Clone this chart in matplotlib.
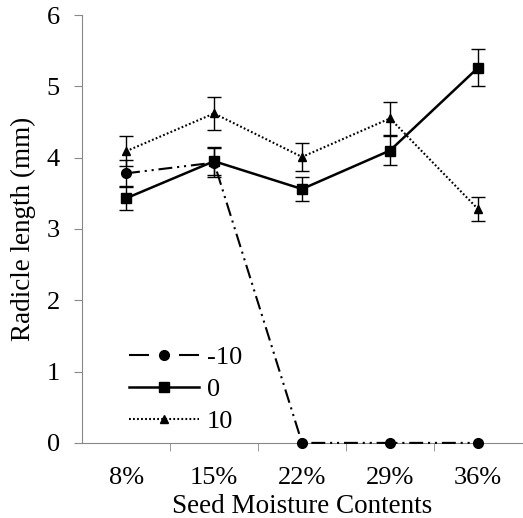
import numpy as np
import matplotlib
matplotlib.use("Agg")
import matplotlib.pyplot as plt
from matplotlib.lines import Line2D

plt.rcParams['font.family'] = ['Liberation Serif', 'DejaVu Serif']
plt.rcParams['lines.scale_dashes'] = False

categories = ["8%", "15%", "22%", "29%", "36%"]
minus10 = [3.78, 3.93, 0, 0, 0]
minus10_err = [0.18, 0.2, 0, 0, 0]
zero = [3.43, 3.95, 3.56, 4.10, 5.26]
zero_err = [0.16, 0.2, 0.17, 0.2, 0.26]
plus10 = [4.09, 4.62, 4.01, 4.55, 3.28]
plus10_err = [0.21, 0.23, 0.2, 0.23, 0.17]

fs = 19
fig = plt.figure(figsize=(5.23, 5.18), dpi=100)
ax = fig.add_axes([0.157, 0.145, 0.841, 0.826])
x = np.arange(len(categories))

eb = dict(ecolor='black', elinewidth=1, capsize=5, capthick=1)
dd = (10, 3.5, 1.5, 3.5, 1.5, 3.5)
dot = (0, (1.3, 1.6))
ax.errorbar(x[:2], minus10[:2], yerr=minus10_err[:2], fmt='none', **eb)
ax.plot(x, minus10, color='black', lw=1.5, marker='o', ms=7,
        dashes=dd, clip_on=False, zorder=5)
ax.errorbar(x, zero, yerr=zero_err, color='black', lw=1.8, marker='s', ms=7, **eb)
ax.errorbar(x, plus10, yerr=plus10_err, color='black', lw=1.5, marker='^', ms=6,
            linestyle=dot, **eb)

ax.set_xlim(-0.5, 4.5)
ax.set_ylim(0, 6)
ax.set_yticks(range(7))
ax.set_xticks(x)
ax.set_xticklabels(categories)
ax.set_xticks(np.arange(0.5, 4.5, 1), minor=True)
ax.tick_params(axis='x', which='major', length=0, pad=17, labelsize=fs)
ax.tick_params(axis='x', which='minor', length=6, color='#888888', direction='out')
ax.tick_params(axis='y', length=6, color='#888888', labelsize=fs, pad=10)
for s in ['top', 'right']:
    ax.spines[s].set_visible(False)
for s in ['left', 'bottom']:
    ax.spines[s].set_color('#888888')

ax.set_xlabel("Seed Moisture Contents", fontsize=19.5, labelpad=4)
ax.set_ylabel("Radicle length (mm)", fontsize=19.5, labelpad=8)

handles = [
    Line2D([], [], color='black', lw=1.5, marker='o', ms=7, dashes=(14.4, 21.6)),
    Line2D([], [], color='black', lw=1.8, marker='s', ms=7),
    Line2D([], [], color='black', lw=1.5, marker='^', ms=6, linestyle=dot),
]
ax.legend(handles, ['-10', '0', '10'], loc='lower left', bbox_to_anchor=(0.053, -0.032),
          frameon=False, fontsize=fs, handlelength=2.65, labelspacing=0.32,
          handletextpad=0.3)

fig.savefig("out.png", dpi=100)
